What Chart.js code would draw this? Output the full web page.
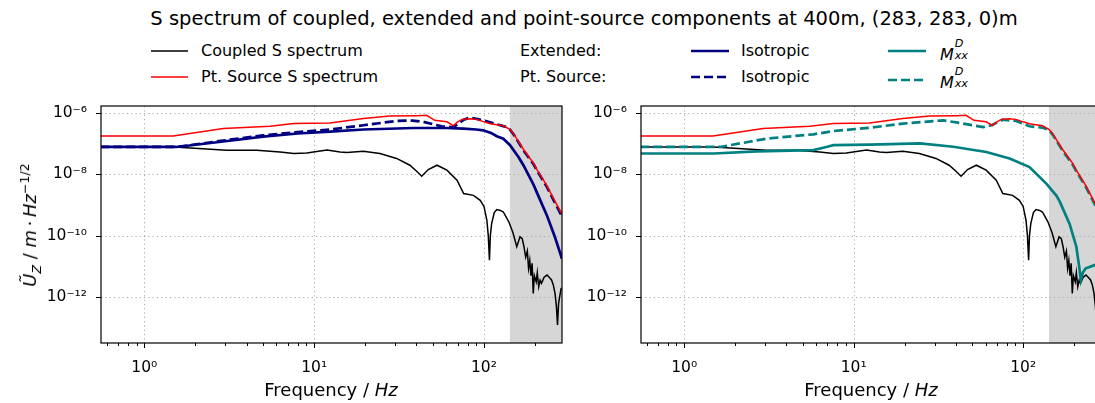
<!DOCTYPE html>
<html>
<head>
<meta charset="utf-8">
<script src="https://cdn.jsdelivr.net/npm/chart.js@4.4.0/dist/chart.umd.min.js"></script>
<style>
  html, body { margin: 0; padding: 0; background: #fff; overflow: hidden; }
  #page { position: relative; width: 1095px; height: 403px; overflow: hidden; font-family: "DejaVu Sans", sans-serif; color: #000; }
  .t { position: absolute; white-space: nowrap; line-height: 1; }
  .mid { transform: translate(-50%, -50%); }
  .left { transform: translateY(-50%); }
  .leg { font-size: 16px; }
  .xlab { font-size: 18px; }
  sub, sup { font-size: 0.7em; line-height: 0; }
  .ss { display: inline-block; position: relative; width: 1.15em; height: 1em; vertical-align: baseline; }
  .ss i { position: absolute; left: 0.08em; font-size: 0.7em; }
  .ss .hi { top: -0.55em; }
  .ss .lo { top: 0.55em; }
  canvas { position: absolute; top: 100px; }
</style>
</head>
<body>
<div id="page">
  <div class="t mid" style="left:584px;top:19px;font-size:19.5px">S spectrum of coupled, extended and point-source components at 400m, (283, 283, 0)m</div>

  <!-- legend -->
  <svg class="t" style="left:150px;top:46px" width="40" height="10"><line x1="1" y1="5" x2="38" y2="5" stroke="#000" stroke-width="1.5"/></svg>
  <div class="t left leg" style="left:201px;top:51px">Coupled S spectrum</div>
  <svg class="t" style="left:150px;top:72px" width="40" height="10"><line x1="1" y1="5" x2="38" y2="5" stroke="#ff0000" stroke-width="1.5"/></svg>
  <div class="t left leg" style="left:201px;top:77px">Pt. Source S spectrum</div>
  <div class="t left leg" style="left:520px;top:51px">Extended:</div>
  <div class="t left leg" style="left:520px;top:77px">Pt. Source:</div>
  <svg class="t" style="left:690px;top:46px" width="42" height="10"><line x1="1" y1="5" x2="39" y2="5" stroke="#000080" stroke-width="2.7"/></svg>
  <div class="t left leg" style="left:741px;top:51px">Isotropic</div>
  <svg class="t" style="left:690px;top:72px" width="42" height="10"><line x1="1" y1="5" x2="39" y2="5" stroke="#000080" stroke-width="2.7" stroke-dasharray="9 4"/></svg>
  <div class="t left leg" style="left:741px;top:77px">Isotropic</div>
  <svg class="t" style="left:887px;top:46px" width="42" height="10"><line x1="1" y1="5" x2="39" y2="5" stroke="#008080" stroke-width="2.7"/></svg>
  <div class="t left leg" style="left:940px;top:53px"><i>M</i><span class="ss"><i class="hi">D</i><i class="lo">xx</i></span></div>
  <svg class="t" style="left:887px;top:75px" width="42" height="10"><line x1="1" y1="5" x2="39" y2="5" stroke="#008080" stroke-width="2.7" stroke-dasharray="9 4"/></svg>
  <div class="t left leg" style="left:940px;top:81px"><i>M</i><span class="ss"><i class="hi">D</i><i class="lo">xx</i></span></div>

  <canvas id="leftChart" width="570" height="303" style="left:0px"></canvas>
  <canvas id="rightChart" width="550" height="303" style="left:560px"></canvas>

  <!-- axis titles -->
  <div class="t xlab" style="left:30px;top:225px;transform:translate(-50%,-50%) rotate(-90deg)"><i>Ũ</i><sub><i>Z</i></sub> / <i>m</i>&#8201;·&#8201;<i>Hz</i><sup>−1/2</sup></div>
  <div class="t mid xlab" style="left:331px;top:390px">Frequency / <i>Hz</i></div>
  <div class="t mid xlab" style="left:871px;top:390px">Frequency / <i>Hz</i></div>
</div>

<script>
// axis limits (Hz and m/Hz^1/2) and start of the shaded band
const freqMin = 0.556, freqMax = 288;
const ampMin = 3.24e-14, ampMax = 1.64e-6;
const bandStart = 142;
const xTicks = [1, 10, 100];
const yTicks = [1e-12, 1e-10, 1e-8, 1e-6];

// Coupled S spectrum
const coupledFreq = [0.55, 1.5, 3.06, 4.6, 6.3, 7.6, 9.05, 11.9, 14.2, 15.6, 19.5, 24.4, 30.6, 36.6, 40, 43, 47, 52.9, 60.5, 69.4, 75.9, 86.7, 95, 100, 104, 106, 107.7, 109, 111, 115, 119, 125, 130, 140, 148, 156, 163, 168, 172, 176, 180, 183, 186, 189, 192, 195, 198, 203, 206, 210, 214, 218, 226, 235, 242, 250, 256, 262, 267, 271, 275, 279, 285];
const coupledAmp = [7.64e-8, 7.64e-8, 6.03e-8, 6.03e-8, 5.25e-8, 4.68e-8, 4.9e-8, 6.03e-8, 5.25e-8, 5.01e-8, 5.5e-8, 4.68e-8, 3.24e-8, 1.95e-8, 1.26e-8, 8.51e-9, 1.41e-8, 1.95e-8, 1.35e-8, 6.31e-9, 2.34e-9, 2.04e-9, 1.41e-9, 8.9e-10, 3.16e-10, 1e-10, 1.58e-11, 1e-10, 2.51e-10, 5.62e-10, 7.08e-10, 6.61e-10, 5.89e-10, 2.82e-10, 1.26e-10, 4.37e-11, 9.12e-11, 7.94e-11, 4.37e-11, 2.0e-11, 3.16e-11, 8.71e-12, 1.58e-11, 5.01e-12, 1.26e-11, 1.32e-12, 5.01e-12, 3.16e-12, 6.31e-12, 2.19e-12, 3.55e-12, 2.82e-12, 4.47e-12, 5.25e-12, 4.47e-12, 3.63e-12, 2.51e-12, 1.32e-12, 5.01e-13, 1.26e-13, 6.31e-13, 1.02e-12, 2.0e-12];

// Pt. Source S spectrum
const sourceFreq = [0.55, 1.48, 2.92, 5.5, 7.6, 12.4, 19.5, 28, 40.4, 46, 51.3, 60.5, 66, 70, 74.3, 83, 90.6, 100, 108.9, 130, 142, 150, 160, 171, 196, 205, 235, 260, 288];
const sourceAmp = [1.74e-7, 1.74e-7, 3.02e-7, 3.59e-7, 4.4e-7, 4.57e-7, 6.38e-7, 7.76e-7, 7.94e-7, 8.13e-7, 5.62e-7, 5.01e-7, 3.8e-7, 5.01e-7, 6.03e-7, 6.31e-7, 6.03e-7, 5.01e-7, 4.37e-7, 3.72e-7, 2.88e-7, 2.0e-7, 1.12e-7, 6.31e-8, 2.24e-8, 1.41e-8, 4.17e-9, 1.41e-9, 5.01e-10];

// Extended, isotropic
const extIsoFreq = [0.55, 1.55, 3, 5, 8, 12.4, 19.5, 38.5, 60, 75.9, 90, 99, 110, 119, 130, 142, 160, 171, 196, 205, 235, 260, 288];
const extIsoAmp = [7.64e-8, 7.64e-8, 1.17e-7, 1.66e-7, 2.09e-7, 2.4e-7, 2.82e-7, 3.16e-7, 3.16e-7, 3.02e-7, 2.82e-7, 2.66e-7, 2.19e-7, 1.7e-7, 1.41e-7, 8.91e-8, 3.55e-8, 1.91e-8, 4.47e-9, 2.51e-9, 4.47e-10, 1e-10, 1.78e-11];

// Pt. Source, isotropic
const ptIsoFreq = [0.55, 1.55, 3, 5, 8, 12.4, 19.5, 30.6, 38, 44, 56.4, 66, 70, 76, 83, 99, 119, 136, 142, 150, 160, 171, 196, 205, 235, 260, 288];
const ptIsoAmp = [7.64e-8, 7.64e-8, 1.26e-7, 1.82e-7, 2.34e-7, 2.82e-7, 3.89e-7, 5.37e-7, 5.5e-7, 5.01e-7, 3.59e-7, 3.39e-7, 4.17e-7, 5.89e-7, 6.92e-7, 5.62e-7, 4.17e-7, 3.39e-7, 2.82e-7, 1.91e-7, 1.07e-7, 5.89e-8, 2.09e-8, 1.32e-8, 3.8e-9, 1.26e-9, 4.17e-10];

// Extended, M_xx^D
const extMxxFreq = [0.55, 1.5, 2.68, 5.78, 6.9, 7.6, 12.5, 24.6, 38.7, 60.6, 83.2, 109, 137, 157, 164, 188, 206, 214, 219, 225, 234, 264, 288];
const extMxxAmp = [4.68e-8, 4.68e-8, 5.5e-8, 6.03e-8, 7.59e-8, 8.71e-8, 9.12e-8, 1e-7, 7.76e-8, 5.25e-8, 3.24e-8, 1.7e-8, 4.9e-9, 2.0e-9, 1.32e-9, 2.4e-10, 4.37e-11, 1e-11, 3.63e-12, 6.31e-12, 8.71e-12, 1.1e-11, 1.26e-11];

// Pt. Source, M_xx^D
const ptMxxFreq = [0.55, 1.63, 3.07, 5.78, 7.6, 12.5, 19.5, 33.7, 42.6, 58, 65, 76, 91, 109, 130, 142, 150, 160, 171, 196, 205, 235, 260, 288];
const ptMxxAmp = [7.64e-8, 7.64e-8, 1.43e-7, 1.97e-7, 2.51e-7, 3.24e-7, 4.37e-7, 5.62e-7, 4.57e-7, 3.39e-7, 3.89e-7, 5.89e-7, 5.37e-7, 3.59e-7, 3.24e-7, 2.75e-7, 1.86e-7, 1.05e-7, 5.75e-8, 2.04e-8, 1.29e-8, 3.72e-9, 1.26e-9, 4.17e-10];

const supDigits = { '-': '⁻', '0': '⁰', '1': '¹', '2': '²', '3': '³', '4': '⁴', '5': '⁵', '6': '⁶', '7': '⁷', '8': '⁸', '9': '⁹' };

// "10^n" label with unicode superscripts
function powerLabel(v) {
  const e = String(Math.round(Math.log10(v)));
  return '10' + e.split('').map(c => supDigits[c]).join('');
}

function pairs(f, a) {
  return f.map((x, i) => ({ x: x, y: a[i] }));
}

// shaded band, dotted grid, full frame and tick marks
const axesDecor = {
  id: 'axesDecor',
  beforeDatasetsDraw(chart) {
    const { ctx, chartArea: a, scales: { x, y } } = chart;
    ctx.save();
    const bx = x.getPixelForValue(bandStart);
    ctx.fillStyle = '#d6d6d6';
    ctx.fillRect(bx, a.top, a.right - bx, a.bottom - a.top);
    ctx.strokeStyle = '#b0b0b0';
    ctx.lineWidth = 1;
    ctx.setLineDash([1.3, 3]);
    ctx.beginPath();
    xTicks.forEach(v => {
      const px = Math.round(x.getPixelForValue(v)) + 0.5;
      ctx.moveTo(px, a.top);
      ctx.lineTo(px, a.bottom);
    });
    yTicks.forEach(v => {
      const py = Math.round(y.getPixelForValue(v)) + 0.5;
      ctx.moveTo(a.left, py);
      ctx.lineTo(a.right, py);
    });
    ctx.stroke();
    ctx.restore();
  },
  afterDraw(chart) {
    const { ctx, chartArea: a, scales: { x, y } } = chart;
    ctx.save();
    ctx.strokeStyle = '#000';
    ctx.lineWidth = 1.2;
    ctx.strokeRect(a.left, a.top, a.right - a.left, a.bottom - a.top);
    ctx.lineWidth = 1;
    ctx.beginPath();
    for (let d = -1; d <= 2; d++) {
      for (let k = 1; k <= 9; k++) {
        const v = k * Math.pow(10, d);
        if (v < freqMin || v > freqMax) continue;
        const px = Math.round(x.getPixelForValue(v)) + 0.5;
        ctx.moveTo(px, a.bottom);
        ctx.lineTo(px, a.bottom + (k === 1 ? 5 : 3));
      }
    }
    yTicks.forEach(v => {
      const py = Math.round(y.getPixelForValue(v)) + 0.5;
      ctx.moveTo(a.left, py);
      ctx.lineTo(a.left - 5, py);
    });
    ctx.stroke();
    ctx.restore();
  }
};

const tickFont = { family: 'DejaVu Sans', size: 15.5 };

// fixed axis sizes, no extra label overflow padding
function fixSize(s, w, h) {
  if (w) s.width = w;
  if (h) s.height = h;
  s.paddingTop = 0;
  s.paddingBottom = 0;
  s.paddingLeft = 0;
  s.paddingRight = 0;
}

function makeChart(id, axisWidth, rightPad, series) {
  return new Chart(document.getElementById(id), {
    type: 'line',
    data: {
      datasets: series.map(s => ({
        data: pairs(s.f, s.a),
        borderColor: s.color,
        borderWidth: s.width,
        borderDash: s.dash || [],
        pointRadius: 0,
        tension: 0,
        fill: false,
        order: s.order
      }))
    },
    options: {
      responsive: false,
      animation: false,
      events: [],
      layout: { autoPadding: false, padding: { top: 6, right: rightPad, left: 0, bottom: 0 } },
      plugins: { legend: { display: false }, tooltip: { enabled: false } },
      scales: {
        x: {
          type: 'logarithmic',
          min: freqMin,
          max: freqMax,
          grid: { display: false },
          border: { display: false },
          afterBuildTicks: s => { s.ticks = xTicks.map(v => ({ value: v })); },
          afterFit: s => fixSize(s, 0, 60),
          ticks: { callback: v => powerLabel(v), font: tickFont, color: '#000', padding: 8, maxRotation: 0, autoSkip: false }
        },
        y: {
          type: 'logarithmic',
          min: ampMin,
          max: ampMax,
          grid: { display: false },
          border: { display: false },
          afterBuildTicks: s => { s.ticks = yTicks.map(v => ({ value: v })); },
          afterFit: s => fixSize(s, axisWidth, 0),
          ticks: { callback: v => powerLabel(v), font: tickFont, color: '#000', padding: 6, autoSkip: false }
        }
      }
    },
    plugins: [axesDecor]
  });
}

// left panel: isotropic components
makeChart('leftChart', 101, 8, [
  { f: coupledFreq, a: coupledAmp, color: '#000000', width: 1.5, order: 4 },
  { f: extIsoFreq, a: extIsoAmp, color: '#000080', width: 2.7, order: 3 },
  { f: ptIsoFreq, a: ptIsoAmp, color: '#000080', width: 2.7, dash: [9, 4], order: 2 },
  { f: sourceFreq, a: sourceAmp, color: '#ff0000', width: 1.5, order: 1 }
]);

// right panel: M_xx^D components
makeChart('rightChart', 81, 9, [
  { f: coupledFreq, a: coupledAmp, color: '#000000', width: 1.5, order: 4 },
  { f: extMxxFreq, a: extMxxAmp, color: '#008080', width: 2.7, order: 3 },
  { f: ptMxxFreq, a: ptMxxAmp, color: '#008080', width: 2.7, dash: [9, 4], order: 2 },
  { f: sourceFreq, a: sourceAmp, color: '#ff0000', width: 1.5, order: 1 }
]);
</script>
</body>
</html>
